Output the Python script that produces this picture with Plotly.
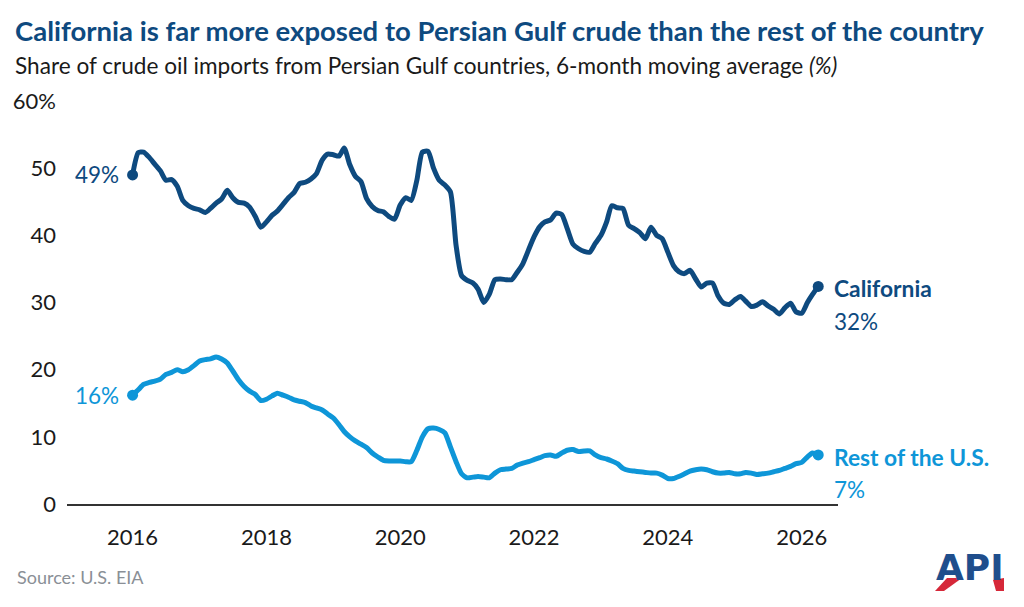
import pandas as pd
import plotly.graph_objects as go

# ---- data (monthly, Jan 2016 - Apr 2026), share of crude imports from Persian Gulf, %
start_month = "2016-01-01"
california = [
    49.0, 52.3, 52.4, 51.6, 50.6, 49.6, 48.2, 48.3, 47.3, 45.2, 44.4, 44.0,
    43.8, 43.4, 44.0, 44.8, 45.4, 46.7, 45.6, 44.9, 44.8, 44.2, 42.8, 41.2,
    42.0, 43.0, 43.6, 44.6, 45.6, 46.4, 47.7, 47.9, 48.4, 49.2, 51.2, 52.1,
    52.0, 51.8, 53.0, 50.5, 48.8, 48.0, 45.5, 44.3, 43.7, 43.5, 42.8, 42.4,
    44.5, 45.6, 45.2, 48.2, 52.4, 52.5, 50.0, 48.2, 47.5, 46.5, 38.5, 34.0,
    33.3, 32.9, 32.0, 30.0, 31.2, 33.4, 33.5, 33.4, 33.4, 34.5, 35.8, 37.8,
    39.8, 41.3, 42.0, 42.3, 43.3, 43.1, 41.0, 38.7, 38.0, 37.6, 37.5, 38.8,
    40.0, 42.0, 44.4, 44.1, 44.0, 41.5, 41.0, 40.4, 39.5, 41.2, 40.0, 39.5,
    37.5, 35.5, 34.6, 34.3, 34.8, 33.5, 32.3, 32.9, 32.9, 31.0, 29.9, 29.7,
    30.4, 30.9, 30.2, 29.4, 29.6, 30.1, 29.5, 29.0, 28.3, 29.2, 29.9, 28.6,
    28.4, 30.0, 31.2, 32.4,
]
rest_of_us = [
    16.2, 17.0, 17.8, 18.1, 18.3, 18.6, 19.3, 19.6, 20.0, 19.7, 20.0, 20.6,
    21.3, 21.5, 21.6, 21.9, 21.6, 21.0, 19.8, 18.5, 17.5, 16.8, 16.3, 15.4,
    15.6, 16.1, 16.5, 16.2, 15.9, 15.5, 15.3, 15.1, 14.6, 14.3, 14.0, 13.4,
    12.8, 11.8, 10.8, 10.0, 9.4, 8.9, 8.4, 7.6, 7.0, 6.5, 6.4, 6.4,
    6.4, 6.3, 6.3, 8.0, 10.0, 11.2, 11.3, 11.1, 10.6, 8.5, 6.3, 4.5,
    3.9, 4.0, 4.1, 4.0, 3.9, 4.6, 5.1, 5.2, 5.3, 5.8, 6.1, 6.3,
    6.6, 6.9, 7.2, 7.3, 7.1, 7.6, 8.0, 8.1, 7.8, 7.9, 7.9, 7.3,
    6.9, 6.7, 6.4, 6.0, 5.3, 5.0, 4.9, 4.8, 4.7, 4.6, 4.6, 4.3,
    3.8, 3.8, 4.1, 4.5, 4.9, 5.1, 5.2, 5.1, 4.8, 4.6, 4.6, 4.7,
    4.5, 4.5, 4.7, 4.6, 4.4, 4.5, 4.6, 4.8, 5.0, 5.3, 5.6, 6.0,
    6.2, 7.0, 7.6, 7.3,
]
series_names = ["California", "Rest of the U.S."]
start_labels = ["49%", "16%"]
end_labels = ["32%", "7%"]
y_tick_vals = [0, 10, 20, 30, 40, 50, 60]
y_tick_text = ["0", "10", "20", "30", "40", "50", "60%"]
x_tick_years = ["2016", "2018", "2020", "2022", "2024", "2026"]

dates = pd.date_range(start_month, periods=len(california), freq="MS")

NAVY = "#0e4a7f"
LIGHT = "#0e96d8"
TEXT = "#1a1a1a"
FONT = "Lato"

# plot area in pixels
L, R, T, B = 67, 838, 101, 504
W, H = 1024, 607


def px(xp):
    return (xp - L) / (R - L)


def py(yp):
    return (B - yp) / (B - T)


fig = go.Figure()
for vals, col, name in [(california, NAVY, series_names[0]), (rest_of_us, LIGHT, series_names[1])]:
    fig.add_trace(go.Scatter(
        x=dates, y=vals, mode="lines", name=name,
        line=dict(color=col, width=5, shape="spline", smoothing=0.6),
        hoverinfo="skip",
    ))
    fig.add_trace(go.Scatter(
        x=[dates[0], dates[-1]], y=[vals[0], vals[-1]], mode="markers",
        marker=dict(color=col, size=11), hoverinfo="skip",
    ))

ann = []
# title & subtitle
ann.append(dict(xref="paper", yref="paper", x=px(13), y=py(31), xanchor="left", yanchor="middle",
                text="<b>California is far more exposed to Persian Gulf crude than the rest of the country</b>",
                font=dict(family=FONT, size=27.5, color=NAVY), showarrow=False))
ann.append(dict(xref="paper", yref="paper", x=px(13), y=py(65), xanchor="left", yanchor="middle",
                text="Share of crude oil imports from Persian Gulf countries, 6-month moving average <i>(%)</i>",
                font=dict(family=FONT, size=22.6, color=TEXT), showarrow=False))
# start labels
for vals, col, lab in [(california, NAVY, start_labels[0]), (rest_of_us, LIGHT, start_labels[1])]:
    ann.append(dict(x=dates[0], y=vals[0], xref="x", yref="y", xanchor="right", yanchor="middle",
                    xshift=-12, text=lab, font=dict(family=FONT, size=22.5, color=col), showarrow=False))
# end labels
for vals, col, name, lab in [(california, NAVY, series_names[0], end_labels[0]),
                             (rest_of_us, LIGHT, series_names[1], end_labels[1])]:
    ann.append(dict(x=dates[-1], y=vals[-1], xref="x", yref="y", xanchor="left", yanchor="middle",
                    xshift=14, yshift=-2, text="<b>" + name + "</b>",
                    font=dict(family=FONT, size=22.8, color=col), showarrow=False))
    ann.append(dict(x=dates[-1], y=vals[-1], xref="x", yref="y", xanchor="left", yanchor="middle",
                    xshift=14, yshift=-35, text=lab,
                    font=dict(family=FONT, size=22.5, color=col), showarrow=False))
# source
ann.append(dict(xref="paper", yref="paper", x=px(15), y=py(577), xanchor="left", yanchor="middle",
                text="Source: U.S. EIA", font=dict(family=FONT, size=18, color="#8a8f96"), showarrow=False))
# API logo (approximation)
ann.append(dict(xref="paper", yref="paper", x=px(970), y=py(567), xanchor="center", yanchor="middle",
                text="<b>API</b>", font=dict(family="DejaVu Sans", size=36, color="#1f4e8c"), showarrow=False))

shapes = [
    dict(type="path", xref="paper", yref="paper", layer="above",
         path=f"M {px(935)} {py(591)} L {px(947)} {py(578)} L {px(962)} {py(578)} L {px(944)} {py(591)} Z",
         fillcolor="#d62839", line=dict(width=0)),
    dict(type="path", xref="paper", yref="paper", layer="above",
         path=f"M {px(993)} {py(580)} L {px(1004)} {py(578)} L {px(1004)} {py(591)} L {px(996)} {py(591)} Z",
         fillcolor="#d62839", line=dict(width=0)),
]

fig.update_layout(
    width=W, height=H,
    margin=dict(l=L, r=W - R, t=T, b=H - B, pad=0),
    paper_bgcolor="white", plot_bgcolor="white",
    showlegend=False,
    annotations=ann,
    shapes=shapes,
    font=dict(family=FONT, color=TEXT),
    xaxis=dict(
        type="date", range=["2015-01-08", "2026-07-18"],
        tickvals=[y + "-01-01" for y in x_tick_years], ticktext=x_tick_years,
        showgrid=False, zeroline=False, showline=True, linecolor="#333333", linewidth=2,
        ticks="", ticklabelstandoff=13, tickfont=dict(family=FONT, size=22, color=TEXT),
        fixedrange=True,
    ),
    yaxis=dict(
        range=[0, 60], tickvals=y_tick_vals, ticktext=y_tick_text,
        showgrid=False, zeroline=False, showline=False, ticks="",
        ticklabelstandoff=10, tickfont=dict(family=FONT, size=22, color=TEXT),
        fixedrange=True,
    ),
)

fig.write_html("out.html", config={"displayModeBar": False})
